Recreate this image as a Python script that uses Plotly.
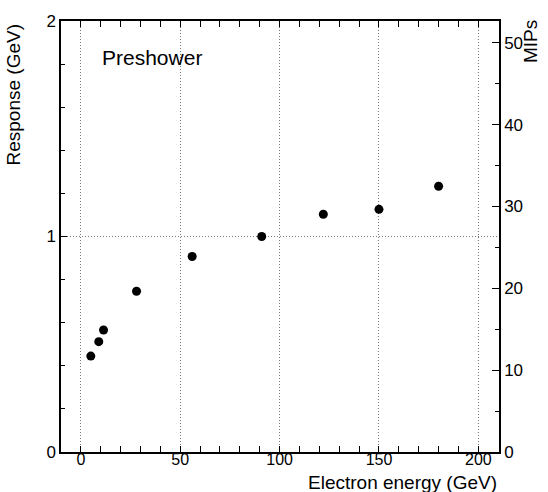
import plotly.graph_objects as go

energy = [5, 9, 11.4, 28, 56, 91, 122, 150, 180]
response = [0.445, 0.512, 0.566, 0.746, 0.907, 1.0, 1.103, 1.126, 1.233]
gev_to_mip = 26.33

x_ticks = [0, 50, 100, 150, 200]
y_ticks = [0, 1, 2]
mip_ticks = [0, 10, 20, 30, 40, 50]

FONT = "Liberation Sans"
GRID = "#777"

fig = go.Figure()
fig.add_trace(go.Scatter(x=energy, y=response, mode="markers",
                         marker=dict(color="black", size=9), showlegend=False))
fig.add_trace(go.Scatter(x=energy, y=[r * gev_to_mip for r in response], mode="markers",
                         marker=dict(color="rgba(0,0,0,0)", size=1), yaxis="y2",
                         showlegend=False, hoverinfo="skip"))

fig.update_layout(
    width=548, height=492,
    margin=dict(l=61, r=49, t=16, b=40),
    plot_bgcolor="white", paper_bgcolor="white",
    font=dict(family=FONT, size=17, color="black"),
    xaxis=dict(range=[-10, 210.4], tickvals=x_ticks, ticks="inside", ticklen=6,
               tickcolor="black", showline=True, linecolor="black", linewidth=1.5,
               mirror="ticks", showgrid=True, gridcolor=GRID, griddash="1px,2px", gridwidth=1,
               zeroline=False, minor=dict(dtick=10, tick0=0, ticks="inside", ticklen=6,
                                          tickcolor="black", showgrid=False),
               tickfont=dict(size=16), ticklabelstandoff=-8),
    yaxis=dict(range=[0, 2], tickvals=y_ticks, ticks="inside", ticklen=6,
               tickcolor="black", showline=True, linecolor="black", linewidth=1.5,
               showgrid=True, gridcolor=GRID, griddash="1px,2px", gridwidth=1,
               zeroline=False, minor=dict(dtick=0.2, tick0=0, ticks="inside", ticklen=4,
                                          tickcolor="black", showgrid=False),
               tickfont=dict(size=17)),
    yaxis2=dict(range=[0, 2 * gev_to_mip], overlaying="y", side="right",
                tickvals=mip_ticks, ticks="inside", ticklen=7, tickcolor="black",
                showline=True, linecolor="black", linewidth=1.5, showgrid=False,
                zeroline=False, minor=dict(dtick=5, tick0=0, ticks="inside", ticklen=4,
                                           tickcolor="black"),
                tickfont=dict(size=17)),
    annotations=[
        dict(text="Response (GeV)", x=0, xref="paper", xanchor="right", xshift=-36,
             y=1.0, yref="paper", yanchor="top", textangle=-90, showarrow=False,
             font=dict(size=19)),
        dict(text="Electron energy (GeV)", x=1.0, xref="paper", xanchor="right",
             y=0, yref="paper", yanchor="top", yshift=-18, showarrow=False,
             font=dict(size=19)),
        dict(text="MIPs", x=1.0, xref="paper", xanchor="left", xshift=19,
             y=1.0, yref="paper", yanchor="top", yshift=3, textangle=-90, showarrow=False,
             font=dict(size=19)),
        dict(text="Preshower", x=0.089, xref="paper", xanchor="left",
             y=0.915, yref="paper", yanchor="middle", showarrow=False,
             font=dict(size=21)),
    ],
)

fig.write_html("out.html")
